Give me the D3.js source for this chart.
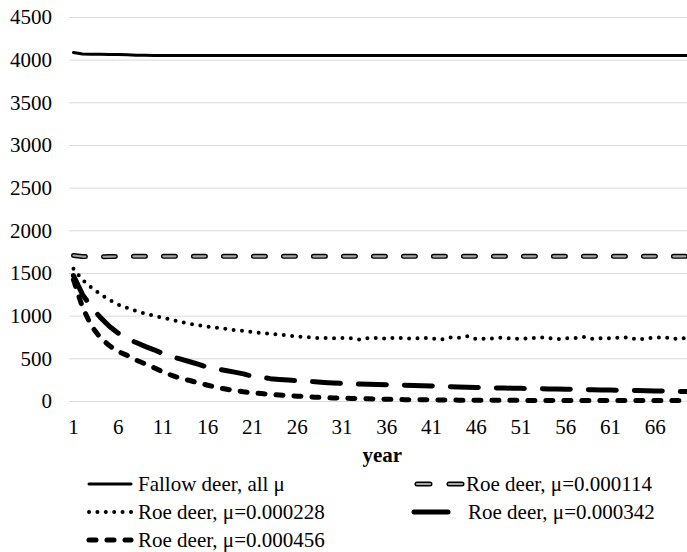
<!DOCTYPE html>
<html><head><meta charset="utf-8">
<script src="https://cdn.jsdelivr.net/npm/d3@7/dist/d3.min.js"></script>
<style>body{margin:0;background:#fff}svg{display:block}</style>
</head><body><svg id="c" width="687" height="552"></svg>
<script>
const years = [1,2,3,4,5,6,7,8,9,10,11,12,13,14,15,16,17,18,19,20,21,22,23,24,25,26,27,28,29,30,31,32,33,34,35,36,37,38,39,40,41,42,43,44,45,46,47,48,49,50,51,52,53,54,55,56,57,58,59,60,61,62,63,64,65,66,67,68,69,70];
const xTickLabels = [1,6,11,16,21,26,31,36,41,46,51,56,61,66];
const yTicks = [0,500,1000,1500,2000,2500,3000,3500,4000,4500];

const fallow = [4085,4066,4064,4063,4062,4061,4058,4053,4051,4050,4050,4050,4050,4050,4050,4050,4050,4050,4050,4050,4050,4050,4050,4050,4050,4050,4050,4050,4050,4050,4050,4050,4050,4050,4050,4050,4050,4050,4050,4050,4050,4050,4050,4050,4050,4050,4050,4050,4050,4050,4050,4050,4050,4050,4050,4050,4050,4050,4050,4050,4050,4050,4050,4050,4050,4050,4050,4050,4050,4050];
const roe114 = [1705,1693,1690,1690,1692,1694,1695,1695,1695,1695,1695,1695,1695,1695,1695,1695,1695,1695,1695,1695,1695,1695,1695,1695,1695,1695,1695,1695,1695,1695,1695,1695,1695,1695,1695,1695,1695,1695,1695,1695,1695,1695,1695,1695,1695,1695,1695,1695,1695,1695,1695,1695,1695,1695,1695,1695,1695,1695,1695,1695,1695,1695,1695,1695,1695,1695,1695,1695,1695,1695];
const roe228 = [1550,1420,1330,1250,1185,1130,1090,1055,1025,1000,975,950,925,905,888,872,858,845,832,820,808,797,788,778,768,756,748,740,738,735,738,735,718,738,740,728,745,735,730,742,735,718,745,740,760,725,730,735,742,730,728,735,745,740,725,735,738,752,728,735,735,742,745,718,735,740,748,725,740,710];
const roe342 = [1470,1250,1100,980,875,795,730,685,640,600,555,520,490,460,430,395,375,358,338,318,290,278,262,253,245,238,232,225,218,212,207,203,198,195,192,190,187,185,182,180,176,172,168,165,162,159,156,154,152,150,148,146,144,142,140,138,136,134,132,130,128,126,124,122,120,118,116,114,112,110];
const roe456 = [1420,1100,880,740,650,580,535,480,435,390,340,300,265,240,210,185,160,140,122,108,97,87,78,70,63,57,51,45,40,36,33,30,27,25,22,20,18,16,15,14,13,12,11,10,10,9,9,8,8,8,7,7,7,7,6,6,6,6,6,6,5,5,5,5,5,5,5,5,5,5];

const seriesNames = ["Fallow deer, all \u03bc","Roe deer, \u03bc=0.000114","Roe deer, \u03bc=0.000228","Roe deer, \u03bc=0.000342","Roe deer, \u03bc=0.000456"];

const FONT = "'Liberation Serif','Times New Roman',serif";
const svg = d3.select("#c");
const pLeft = 69, pRight = 695.5, pTop = 17, pBottom = 401;
const x = d3.scaleBand().domain(years).range([pLeft, pRight]).padding(0);
const y = d3.scaleLinear().domain([0, 4500]).range([pBottom, pTop]);
const cx = d => x(d) + x.bandwidth() / 2;

// gridlines
const grid = svg.append("g").attr("transform", `translate(${pLeft},0)`)
  .call(d3.axisLeft(y).tickValues(yTicks).tickSize(-(687 - pLeft)).tickFormat(""));
grid.select(".domain").remove();
grid.selectAll("line").attr("stroke", "#d9d9d9").attr("stroke-width", 1);

// y axis labels
const ya = svg.append("g").attr("transform", `translate(${pLeft},0)`)
  .call(d3.axisLeft(y).tickValues(yTicks).tickSize(0).tickPadding(17).tickFormat(d3.format("d")));
ya.select(".domain").remove();
ya.selectAll("text").attr("font-family", FONT).attr("font-size", 21).attr("fill", "#000");

// x axis labels
const xa = svg.append("g").attr("transform", `translate(0,${pBottom})`)
  .call(d3.axisBottom(x).tickValues(xTickLabels).tickSize(0).tickPadding(18));
xa.select(".domain").remove();
xa.selectAll("text").attr("font-family", FONT).attr("font-size", 21).attr("fill", "#000");

svg.append("text").attr("x", (pLeft + pRight) / 2).attr("y", 462).attr("text-anchor", "middle")
  .attr("font-family", FONT).attr("font-size", 21).attr("font-weight", "bold").text("year");

const styles = [
  [{stroke:"#000", width:3, dash:null, cap:"round"}],
  [{stroke:"#000", width:5, dash:"12,18", cap:"round"},{stroke:"#a6a6a6", width:2.2, dash:"12,18", cap:"round"}],
  [{stroke:"#000", width:4, dash:"0,8.4", cap:"round"}],
  [{stroke:"#000", width:5, dash:"28,18", cap:"round"}],
  [{stroke:"#000", width:5, dash:"7,11", cap:"round"}]
];
const data = [fallow, roe114, roe228, roe342, roe456];
const line = d3.line().x((d, i) => cx(years[i])).y(d => y(d));

const plot = svg.append("g");
data.forEach((vals, k) => {
  styles[k].forEach(s => {
    plot.append("path").datum(vals).attr("d", line)
      .attr("fill", "none").attr("stroke", s.stroke).attr("stroke-width", s.width)
      .attr("stroke-dasharray", s.dash).attr("stroke-linecap", s.cap).attr("stroke-linejoin", "round");
  });
});

// legend
const legendPos = [
  {sx:[89,131], tx:138, ty:484},
  {sx:[414,462], tx:466, ty:484},
  {sx:[89,131], tx:138, ty:512},
  {sx:[414,448], tx:468, ty:512},
  {sx:[89,131], tx:138, ty:540}
];
const legendDash = [null, "13,19", "0,8.4", null, "7,11"];
const lg = svg.append("g");
seriesNames.forEach((name, k) => {
  const p = legendPos[k];
  styles[k].forEach(s => {
    lg.append("line").attr("x1", p.sx[0] + (k === 1 ? 3 : 0)).attr("x2", p.sx[1]).attr("y1", p.ty).attr("y2", p.ty)
      .attr("stroke", s.stroke).attr("stroke-width", s.width)
      .attr("stroke-dasharray", legendDash[k])
      .attr("stroke-linecap", s.cap);
  });
  lg.append("text").attr("x", p.tx).attr("y", p.ty).attr("dy", "0.33em")
    .attr("font-family", FONT).attr("font-size", 21).text(name);
});
</script></body></html>
